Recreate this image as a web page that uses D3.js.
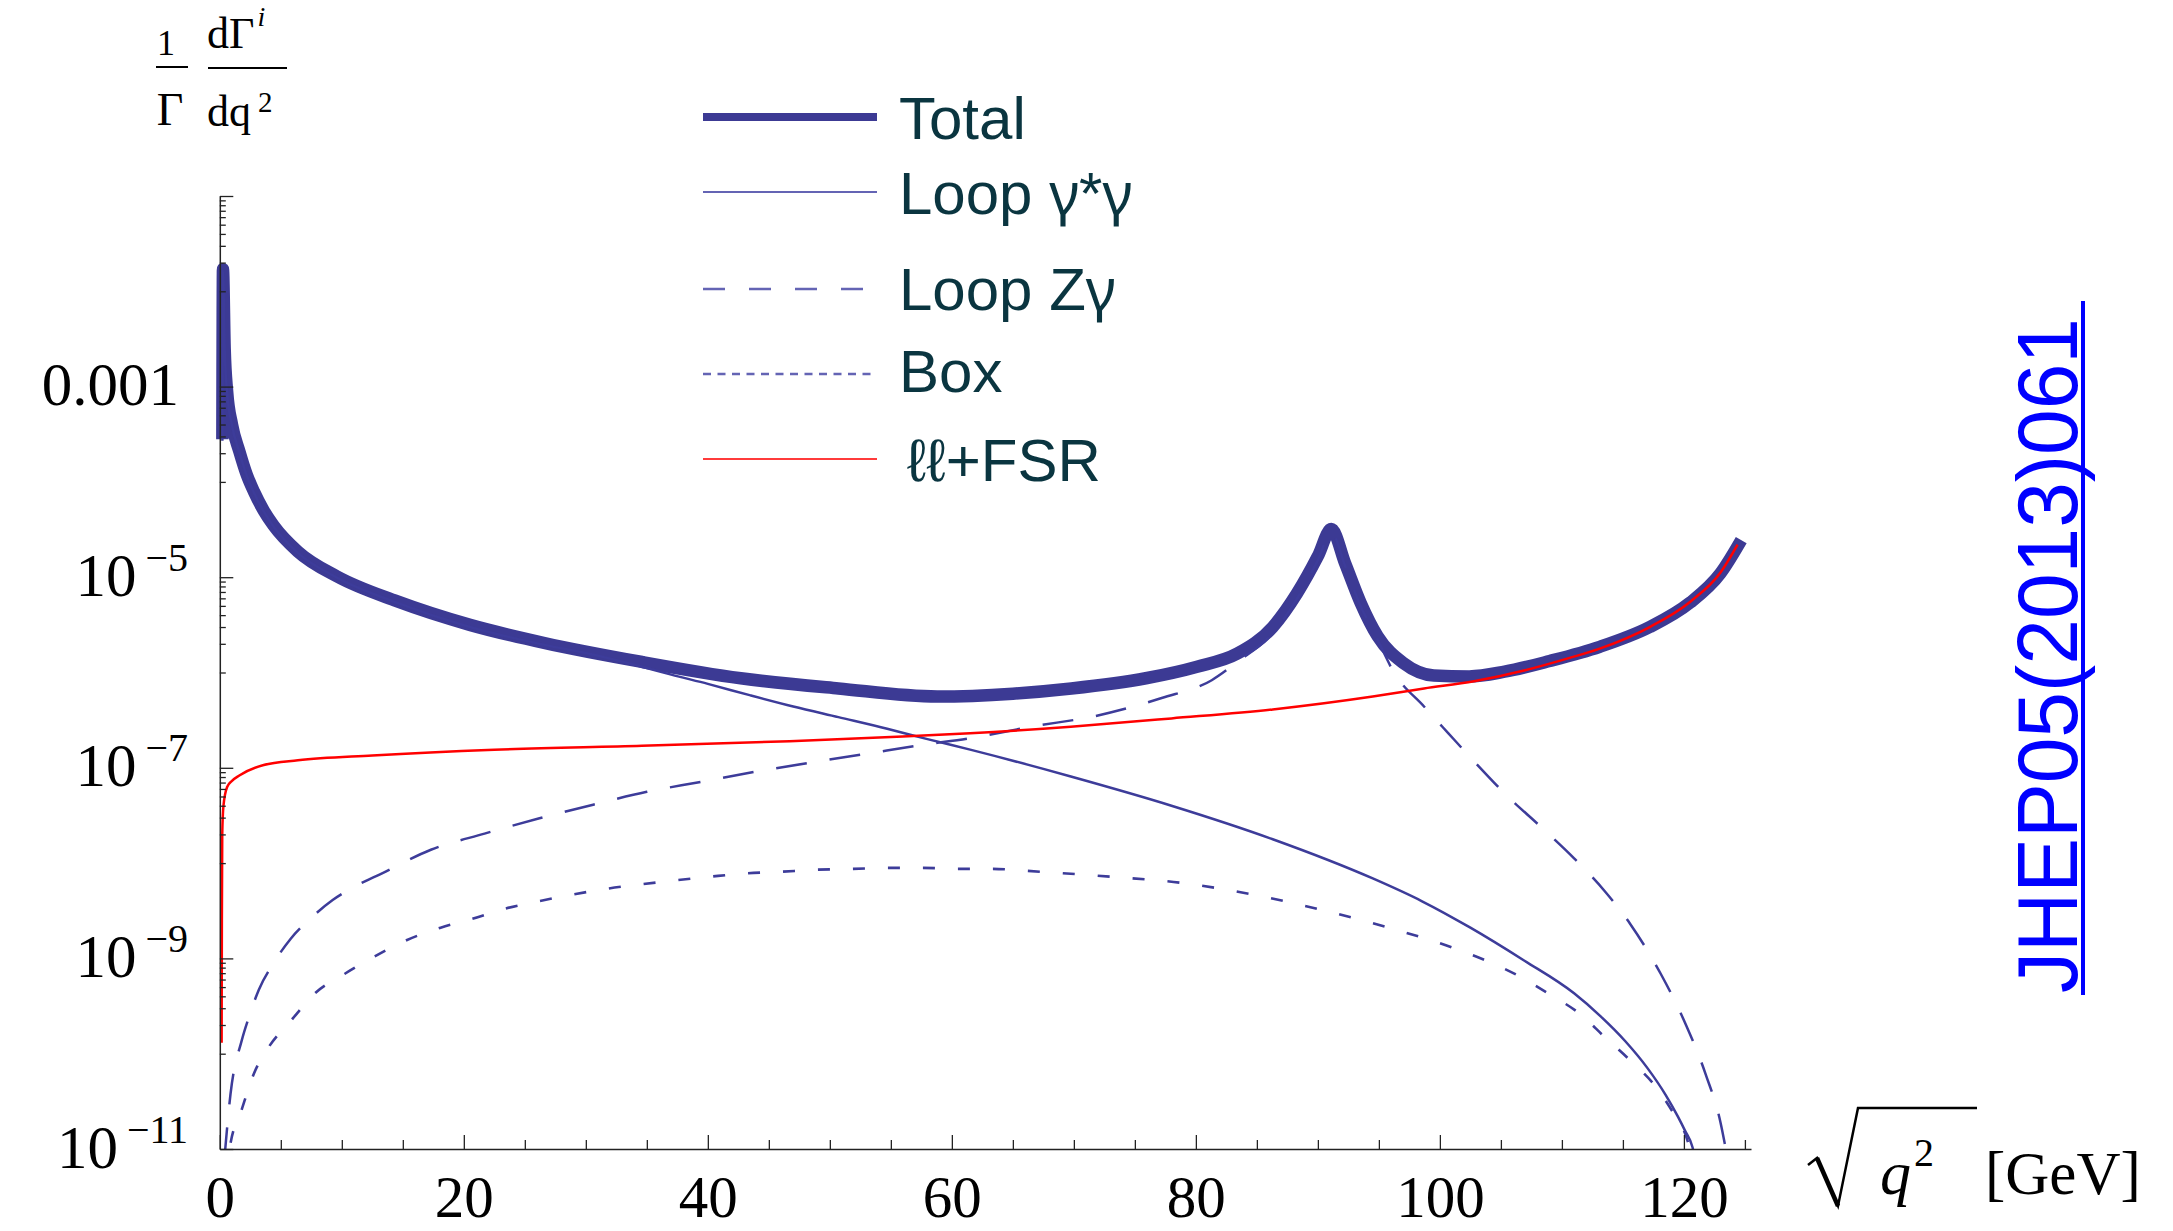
<!DOCTYPE html>
<html>
<head>
<meta charset="utf-8">
<script src="https://cdn.jsdelivr.net/npm/d3@7"></script>
<style>
  html, body { margin: 0; padding: 0; background: #ffffff; }
  svg { display: block; }
</style>
</head>
<body>
<svg id="chart" width="2173" height="1231"></svg>
<script>
// ---- Differential rates (1/Γ dΓ/dq²) versus sqrt(q²) in GeV ----

// Total
const totalQ = [0.21, 0.26, 0.4, 0.6, 1.0, 1.6, 2.2, 2.8, 3.6, 4.4, 6.4, 9.6, 14.5, 20.5, 26.6, 34.6, 42.7, 50.7, 58.8,
  65.0, 69.8, 75.9, 80.1, 83.4, 86.3, 88.3, 90.0, 91.1, 92.25, 93.5, 94.9, 97.0, 99.5, 102.4, 105.3,
  109.0, 113.1, 117.2, 120.5, 123.0, 124.7];
const totalRate = [2.8e-4, 1.7e-2, 2.5e-3, 8.9e-4, 4.0e-4, 2.1e-4, 1.2e-4, 7.9e-5, 5.0e-5, 3.5e-5, 1.86e-5, 1.02e-5, 5.6e-6, 3.16e-6, 2.04e-6, 1.29e-6, 8.7e-7, 6.8e-7, 5.6e-7,
  6.0e-7, 6.8e-7, 8.7e-7, 1.15e-6, 1.58e-6, 3.0e-6, 6.8e-6, 1.66e-5, 3.2e-5, 1.38e-5, 5.4e-6, 2.4e-6, 1.26e-6, 9.3e-7, 9.1e-7, 1.02e-6,
  1.32e-6, 1.86e-6, 3.0e-6, 5.4e-6, 1.1e-5, 2.45e-5];

// Loop γ*γ
const loopAAQ = [0.21, 0.26, 0.4, 0.6, 1.0, 1.6, 2.2, 2.8, 3.6, 4.4, 6.4, 9.6, 14.5, 20.5, 26.6, 30.0, 34.6, 37.0, 40.0, 43.5, 47.0, 50.7,
  54.7, 58.0, 61.5, 69.75, 78.0, 86.3, 94.5, 98.5, 102.5, 106.9, 111.0, 113.2, 115.2, 117.0, 118.5, 119.5, 120.1, 120.7, 121.2];
const loopAARate = [2.7e-4, 1.65e-2, 2.4e-3, 8.6e-4, 3.9e-4, 2.05e-4, 1.17e-4, 7.7e-5, 4.9e-5, 3.4e-5, 1.8e-5, 9.9e-6, 5.4e-6, 3.0e-6, 1.95e-6, 1.6e-6, 1.15e-6, 9.5e-7, 7.6e-7, 5.75e-7, 4.4e-7, 3.4e-7,
  2.57e-7, 2.0e-7, 1.55e-7, 8.1e-8, 4.0e-8, 1.78e-8, 6.9e-9, 4.0e-9, 2.1e-9, 9.5e-10, 4.3e-10, 2.45e-10, 1.35e-10, 7.1e-11, 3.7e-11, 2.2e-11, 1.55e-11, 1.05e-11, 5e-12];

// Loop Zγ
const loopZAQ = [0.38, 0.88, 1.8, 2.4, 3.2, 4.4, 5.83, 7.4, 9.25, 11.2, 13.3, 17.3, 21.7, 26.2, 30.6, 35.0, 39.4, 43.9, 48.7, 53.1,
  57.6, 61.5, 66.5, 71.8, 77.2, 81.3, 83.4, 86.3, 88.3, 90.0, 91.1, 92.25, 93.5, 94.9, 96.2, 98.7,
  100.7, 102.8, 105.3, 108.6, 111.0, 113.5, 115.6, 118.1, 120.1, 121.8, 123.0, 123.5];
const loopZARate = [8e-12, 3.8e-11, 1.38e-10, 2.45e-10, 4.7e-10, 8.9e-10, 1.62e-9, 2.6e-9, 4.1e-9, 5.8e-9, 7.8e-9, 1.38e-8, 2.04e-8, 2.95e-8, 4.1e-8, 5.6e-8, 7.1e-8, 9.1e-8, 1.15e-7, 1.41e-7,
  1.74e-7, 2.04e-7, 2.7e-7, 3.5e-7, 5.4e-7, 8.3e-7, 1.29e-6, 2.6e-6, 6.0e-6, 1.51e-5, 2.95e-5, 1.29e-5, 5.0e-6, 2.2e-6, 1.02e-6, 4.4e-7,
  2.3e-7, 1.17e-7, 5.4e-8, 2.2e-8, 1.12e-8, 5.1e-9, 2.3e-9, 6.9e-10, 2.1e-10, 6.0e-11, 1.9e-11, 9e-12];

// Box
const boxQ = [0.6, 0.8, 1.8, 2.8, 4.0, 5.8, 7.8, 10.25, 12.7, 15.3, 18.1, 20.7, 23.3, 26.2, 29.0, 31.8,
  34.6, 37.4, 40.2, 43.1, 45.9, 48.7, 51.9, 54.7, 57.6, 60.8, 63.1, 67.3, 73.0, 78.8, 84.6, 90.4,
  95.8, 101.1, 106.5, 109.0, 111.5, 113.5, 115.6, 117.7, 119.3, 120.1, 120.6];
const boxRate = [5e-12, 1.0e-11, 2.6e-11, 6.2e-11, 1.17e-10, 2.2e-10, 4.3e-10, 6.9e-10, 1.05e-9, 1.55e-9, 2.1e-9, 2.6e-9, 3.3e-9, 4.0e-9, 4.7e-9, 5.4e-9,
  6.0e-9, 6.6e-9, 7.2e-9, 7.8e-9, 8.1e-9, 8.5e-9, 8.7e-9, 8.9e-9, 8.9e-9, 8.7e-9, 8.7e-9, 8.1e-9, 7.2e-9, 6.2e-9, 4.7e-9, 3.2e-9,
  2.1e-9, 1.29e-9, 6.5e-10, 4.2e-10, 2.6e-10, 1.5e-10, 8.5e-11, 4.5e-11, 2.2e-11, 1.45e-11, 9e-12];

// ℓℓ + FSR
const fsrQ = [0.15, 0.17, 0.2, 0.3, 0.6, 1.0, 1.6, 3.6, 6.4, 12.5, 22.5, 34.6, 46.7, 55.0, 61.5, 69.75,
  78.0, 86.3, 94.5, 98.7, 102.8, 106.9, 110.0, 113.1, 117.2, 120.5, 123.0, 124.4];
const fsrRate = [1.3e-10, 2.5e-9, 2.0e-8, 4.0e-8, 6.3e-8, 7.3e-8, 8.3e-8, 1.07e-7, 1.2e-7, 1.35e-7, 1.55e-7, 1.7e-7, 1.9e-7, 2.1e-7, 2.3e-7, 2.7e-7,
  3.3e-7, 4.1e-7, 5.6e-7, 6.8e-7, 8.1e-7, 1.05e-6, 1.35e-6, 1.78e-6, 3.0e-6, 5.5e-6, 1.12e-5, 2.2e-5];

// legend entries, split so the Greek letters can use their own face
const legendLabels = [["Total"], ["Loop ", "γ", "*", "γ"], ["Loop Z", "γ"], ["Box"], ["ℓℓ+FSR"]];

// axis ticks
const xTickMajor = [0, 20, 40, 60, 80, 100, 120];
const xTickMinor = [5, 10, 15, 25, 30, 35, 45, 50, 55, 65, 70, 75, 85, 90, 95, 105, 110, 115, 125];
const yTickMajor = [1e-3, 1e-5, 1e-7, 1e-9, 1e-11];
const yTickBase = ["0.001", "10", "10", "10", "10"];
const yTickExp = ["", "−5", "−7", "−9", "−11"];
const yTickDecadesWithMinors = [-1, -3, -5, -7, -9];

// ---- drawing ----
const svg = d3.select("#chart");
const W = 2173, H = 1231;
svg.append("rect").attr("width", W).attr("height", H).attr("fill", "#ffffff");

const x = d3.scaleLinear().domain([0, 125.5]).range([219.8, 1751]);
const y = d3.scaleLog().domain([1e-11, 1e-1]).range([1149, 196]);

const serif = "'Liberation Serif', 'Times New Roman', serif";
const sans = "'Liberation Sans', Arial, Helvetica, sans-serif";
const greek = "'Noto Sans', 'DejaVu Sans', sans-serif";
const blue = "#3c3a94";
const thinBlue = "#3d3c9a";

svg.append("defs").append("clipPath").attr("id", "plotClip")
  .append("rect").attr("x", 200).attr("y", 150).attr("width", 1560).attr("height", 1149 - 150);

// curves
const line = d3.line()
  .x(d => x(d[0]))
  .y(d => y(d[1]))
  .curve(d3.curveMonotoneX);

const curves = svg.append("g").attr("clip-path", "url(#plotClip)").attr("fill", "none");

curves.append("path")
  .attr("d", line(d3.zip(totalQ, totalRate)))
  .attr("stroke", blue).attr("stroke-width", 12.5)
  .attr("stroke-linejoin", "round").attr("stroke-linecap", "butt");

curves.append("path")
  .attr("d", line(d3.zip(loopAAQ, loopAARate)))
  .attr("stroke", thinBlue).attr("stroke-width", 2.5);

curves.append("path")
  .attr("d", line(d3.zip(loopZAQ, loopZARate)))
  .attr("stroke", thinBlue).attr("stroke-width", 2.5)
  .attr("stroke-dasharray", "31,23");

curves.append("path")
  .attr("d", line(d3.zip(boxQ, boxRate)))
  .attr("stroke", thinBlue).attr("stroke-width", 2.6)
  .attr("stroke-dasharray", "12,23");

curves.append("path")
  .attr("d", line(d3.zip(fsrQ, fsrRate)))
  .attr("stroke", "#ff0000").attr("stroke-width", 2.5);

// x axis
const axisColor = "#222";
const gx = svg.append("g").attr("transform", `translate(0,${y(1e-11)})`);
gx.call(d3.axisBottom(x).tickValues(xTickMajor).tickSizeInner(-14).tickSizeOuter(0)
  .tickPadding(26).tickFormat(d3.format("d")));
gx.append("g").call(d3.axisBottom(x).tickValues(xTickMinor).tickSizeInner(-9).tickSizeOuter(0).tickFormat(""))
  .call(g => g.select(".domain").remove());
gx.selectAll("text").attr("font-family", serif).attr("font-size", 59).attr("fill", "#000");
gx.selectAll("line").attr("stroke", axisColor).attr("stroke-width", 1.3);
gx.selectAll(".domain").attr("stroke", axisColor).attr("stroke-width", 1.5);

// y axis
const yMinor = [];
yTickDecadesWithMinors.forEach(e => {
  for (let j = 1; j <= 9; j++) yMinor.push(j * Math.pow(10, e - 1));
});
const gy = svg.append("g").attr("transform", `translate(${x(0)},0)`);
gy.call(d3.axisLeft(y).tickValues(yTickMajor.concat([1e-1])).tickSizeInner(-13.5).tickSizeOuter(0).tickFormat(""));
gy.append("g").call(d3.axisLeft(y).tickValues(yMinor).tickSizeInner(-6).tickSizeOuter(0).tickFormat(""))
  .call(g => g.select(".domain").remove());
gy.selectAll("line").attr("stroke", axisColor).attr("stroke-width", 1.3);
gy.selectAll(".domain").attr("stroke", axisColor).attr("stroke-width", 1.5);

// y tick labels: base with optional superscript exponent
const yLab = svg.append("g").attr("font-family", serif).attr("fill", "#000");
yTickMajor.forEach((v, i) => {
  const t = yLab.append("text")
    .attr("x", yTickExp[i] ? 188 : 179)
    .attr("y", y(v) + 18.5)
    .attr("text-anchor", "end")
    .attr("font-size", 61);
  t.append("tspan").text(yTickBase[i]);
  if (yTickExp[i]) {
    t.append("tspan").attr("dx", 9).attr("dy", -25).attr("font-size", 40).text(yTickExp[i]);
  }
});

// y axis title: (1/Γ) dΓ^i / dq²
const yt = svg.append("g").attr("font-family", serif).attr("fill", "#000");
yt.append("text").attr("x", 166).attr("y", 55).attr("text-anchor", "middle").attr("font-size", 36).text("1");
yt.append("line").attr("x1", 156).attr("x2", 188).attr("y1", 67).attr("y2", 67).attr("stroke", "#000").attr("stroke-width", 2);
yt.append("text").attr("x", 170).attr("y", 125).attr("text-anchor", "middle").attr("font-size", 46).text("Γ");
const num = yt.append("text").attr("x", 207).attr("y", 48).attr("font-size", 44);
num.append("tspan").text("dΓ");
num.append("tspan").attr("dx", 3).attr("dy", -22).attr("font-size", 28).attr("font-style", "italic").text("i");
yt.append("line").attr("x1", 208).attr("x2", 287).attr("y1", 68).attr("y2", 68).attr("stroke", "#000").attr("stroke-width", 2);
const den = yt.append("text").attr("x", 207).attr("y", 126).attr("font-size", 44);
den.append("tspan").text("dq");
den.append("tspan").attr("dx", 7).attr("dy", -14).attr("font-size", 29).text("2");

// x axis title: sqrt(q²) [GeV]
const xt = svg.append("g");
xt.append("path")
  .attr("d", "M1808,1165 L1817,1158 L1838,1206 L1858,1108 L1977,1108")
  .attr("fill", "none").attr("stroke", "#000").attr("stroke-width", 2.5).attr("stroke-linejoin", "miter");
xt.append("path")
  .attr("d", "M1817,1158 L1838,1206")
  .attr("fill", "none").attr("stroke", "#000").attr("stroke-width", 4.5);
const xq = xt.append("text").attr("x", 1880).attr("y", 1194).attr("font-family", serif).attr("fill", "#000");
xq.append("tspan").attr("font-size", 62).attr("font-style", "italic").text("q");
xq.append("tspan").attr("dx", 3).attr("dy", -28).attr("font-size", 40).text("2");
xt.append("text").attr("x", 1985).attr("y", 1194).attr("font-family", serif).attr("font-size", 61)
  .attr("fill", "#000").text("[GeV]");

// legend
const legX1 = 703, legX2 = 877;
const legLineY = [117, 192, 289, 374, 459];
const legTextY = [139, 214, 310, 392, 481];
const legStroke = [blue, "#6464b4", "#6464b4", "#6464b4", "#ff3b3b"];
const legWidth = [8, 2.2, 2.4, 2.4, 2.2];
const legDash = [null, null, "22,24", "8,6.5", null];
const legTextX = [899, 899, 899, 899, 907];
const leg = svg.append("g");
legendLabels.forEach((parts, i) => {
  leg.append("line")
    .attr("x1", legX1).attr("x2", legX2)
    .attr("y1", legLineY[i]).attr("y2", legLineY[i])
    .attr("stroke", legStroke[i]).attr("stroke-width", legWidth[i])
    .attr("stroke-dasharray", legDash[i]);
  const t = leg.append("text")
    .attr("x", legTextX[i]).attr("y", legTextY[i])
    .attr("font-family", sans).attr("font-size", 60)
    .attr("fill", "#0a3540")
    .attr("xml:space", "preserve");
  parts.forEach(p => {
    const s = t.append("tspan").text(p);
    if (p === "γ") s.attr("font-family", greek).attr("font-size", 58);
  });
});

// journal reference, rotated along the right edge
const ref = svg.append("g").attr("transform", "translate(2077,993) rotate(-90)");
ref.append("text")
  .attr("x", 0).attr("y", 0)
  .attr("font-family", sans).attr("font-size", 86)
  .attr("textLength", 675).attr("lengthAdjust", "spacingAndGlyphs")
  .attr("fill", "#0000ff")
  .text("JHEP05(2013)061");
ref.append("line").attr("x1", -2).attr("x2", 692).attr("y1", 6).attr("y2", 6)
  .attr("stroke", "#0000ff").attr("stroke-width", 4);
</script>
</body>
</html>
